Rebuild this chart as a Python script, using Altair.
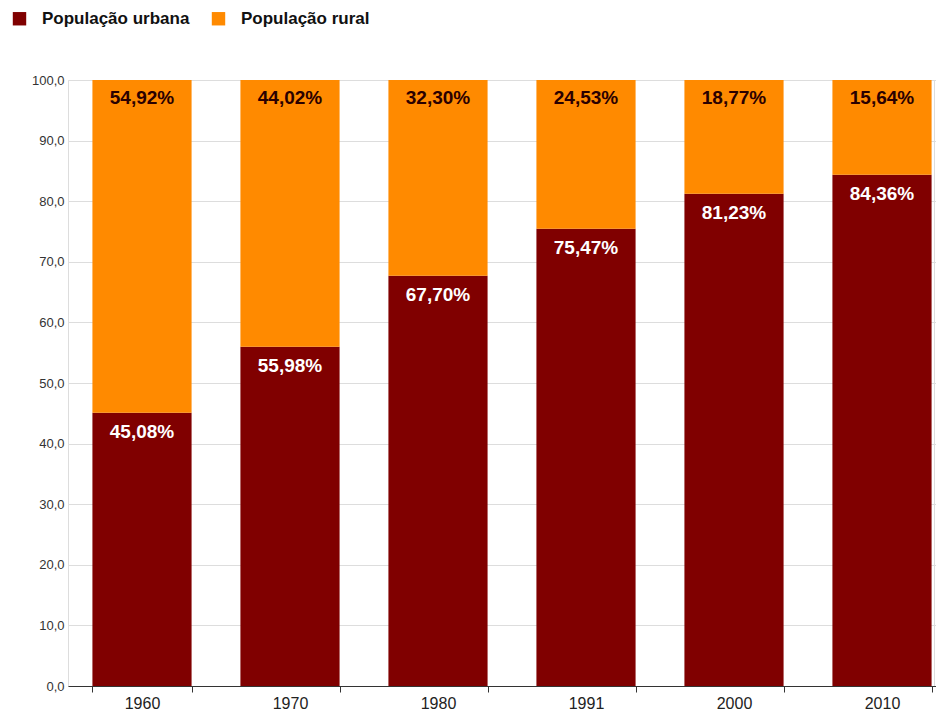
import altair as alt
import pandas as pd

years = ["1960", "1970", "1980", "1991", "2000", "2010"]
urbana = [45.08, 55.98, 67.70, 75.47, 81.23, 84.36]
rural = [54.92, 44.02, 32.30, 24.53, 18.77, 15.64]
series = ["População urbana", "População rural"]
colors = ["#800000", "#ff8a00"]

rows = []
for y, u, r in zip(years, urbana, rural):
    rows.append({"ano": y, "serie": series[0], "ini": 0.0, "fim": u, "val": u,
                 "lbl": f"{u:.2f}".replace(".", ",") + "%"})
    rows.append({"ano": y, "serie": series[1], "ini": u, "fim": 100.0, "val": r,
                 "lbl": f"{r:.2f}".replace(".", ",") + "%"})
df = pd.DataFrame(rows)

xscale = alt.Scale(range=[0, 888], paddingInner=0.33, paddingOuter=0.165)

x = alt.X("ano:N", title=None, sort=years, scale=xscale,
          axis=alt.Axis(labelAngle=0, labelFont="Liberation Sans", labelFontSize=16,
                        labelColor="#222", domainColor="#333", tickColor="#333",
                        tickBand="extent", tickSize=6, labelPadding=3, grid=False))

bars = alt.Chart(df).mark_bar().encode(
    x=x,
    y=alt.Y("ini:Q", title=None, scale=alt.Scale(domain=[0, 100], nice=False),
            axis=alt.Axis(values=list(range(0, 101, 10)),
                          labelExpr="replace(format(datum.value, '.1f'), '.', ',')",
                          labelFont="Liberation Sans", labelFontSize=13, labelColor="#333",
                          ticks=False, domain=False, gridColor="#dddddd", labelPadding=4)),
    y2="fim:Q",
    color=alt.Color("serie:N", scale=alt.Scale(domain=series, range=colors),
                    legend=alt.Legend(title=None, orient="none", direction="horizontal",
                                      legendX=-57, legendY=-70, symbolType="square",
                                      symbolSize=180, symbolStrokeWidth=0,
                                      labelFont="Liberation Sans", labelFontSize=17,
                                      labelFontWeight="bold", labelColor="#111",
                                      labelOffset=14, columnPadding=20, symbolOpacity=1)),
)

txt_u = alt.Chart(df[df.serie == series[0]]).mark_text(
    font="Liberation Sans", fontSize=19, fontWeight="bold", color="white",
    baseline="middle", dy=19
).encode(x=alt.X("ano:N", sort=years, scale=xscale), y="fim:Q", text="lbl:N")

txt_r = alt.Chart(df[df.serie == series[1]]).mark_text(
    font="Liberation Sans", fontSize=19, fontWeight="bold", color="#2a0000",
    baseline="middle", dy=18
).encode(x=alt.X("ano:N", sort=years, scale=xscale), y="fim:Q", text="lbl:N")

chart = alt.layer(bars, txt_u, txt_r).properties(
    width=866, height=606,
    autosize=alt.AutoSizeParams(type="none"),
    padding={"left": 60, "top": 72, "right": 2, "bottom": 26},
).configure_view(stroke=None).configure(background="white")

chart.save("out.html", embed_options={"renderer": "svg", "actions": False})
